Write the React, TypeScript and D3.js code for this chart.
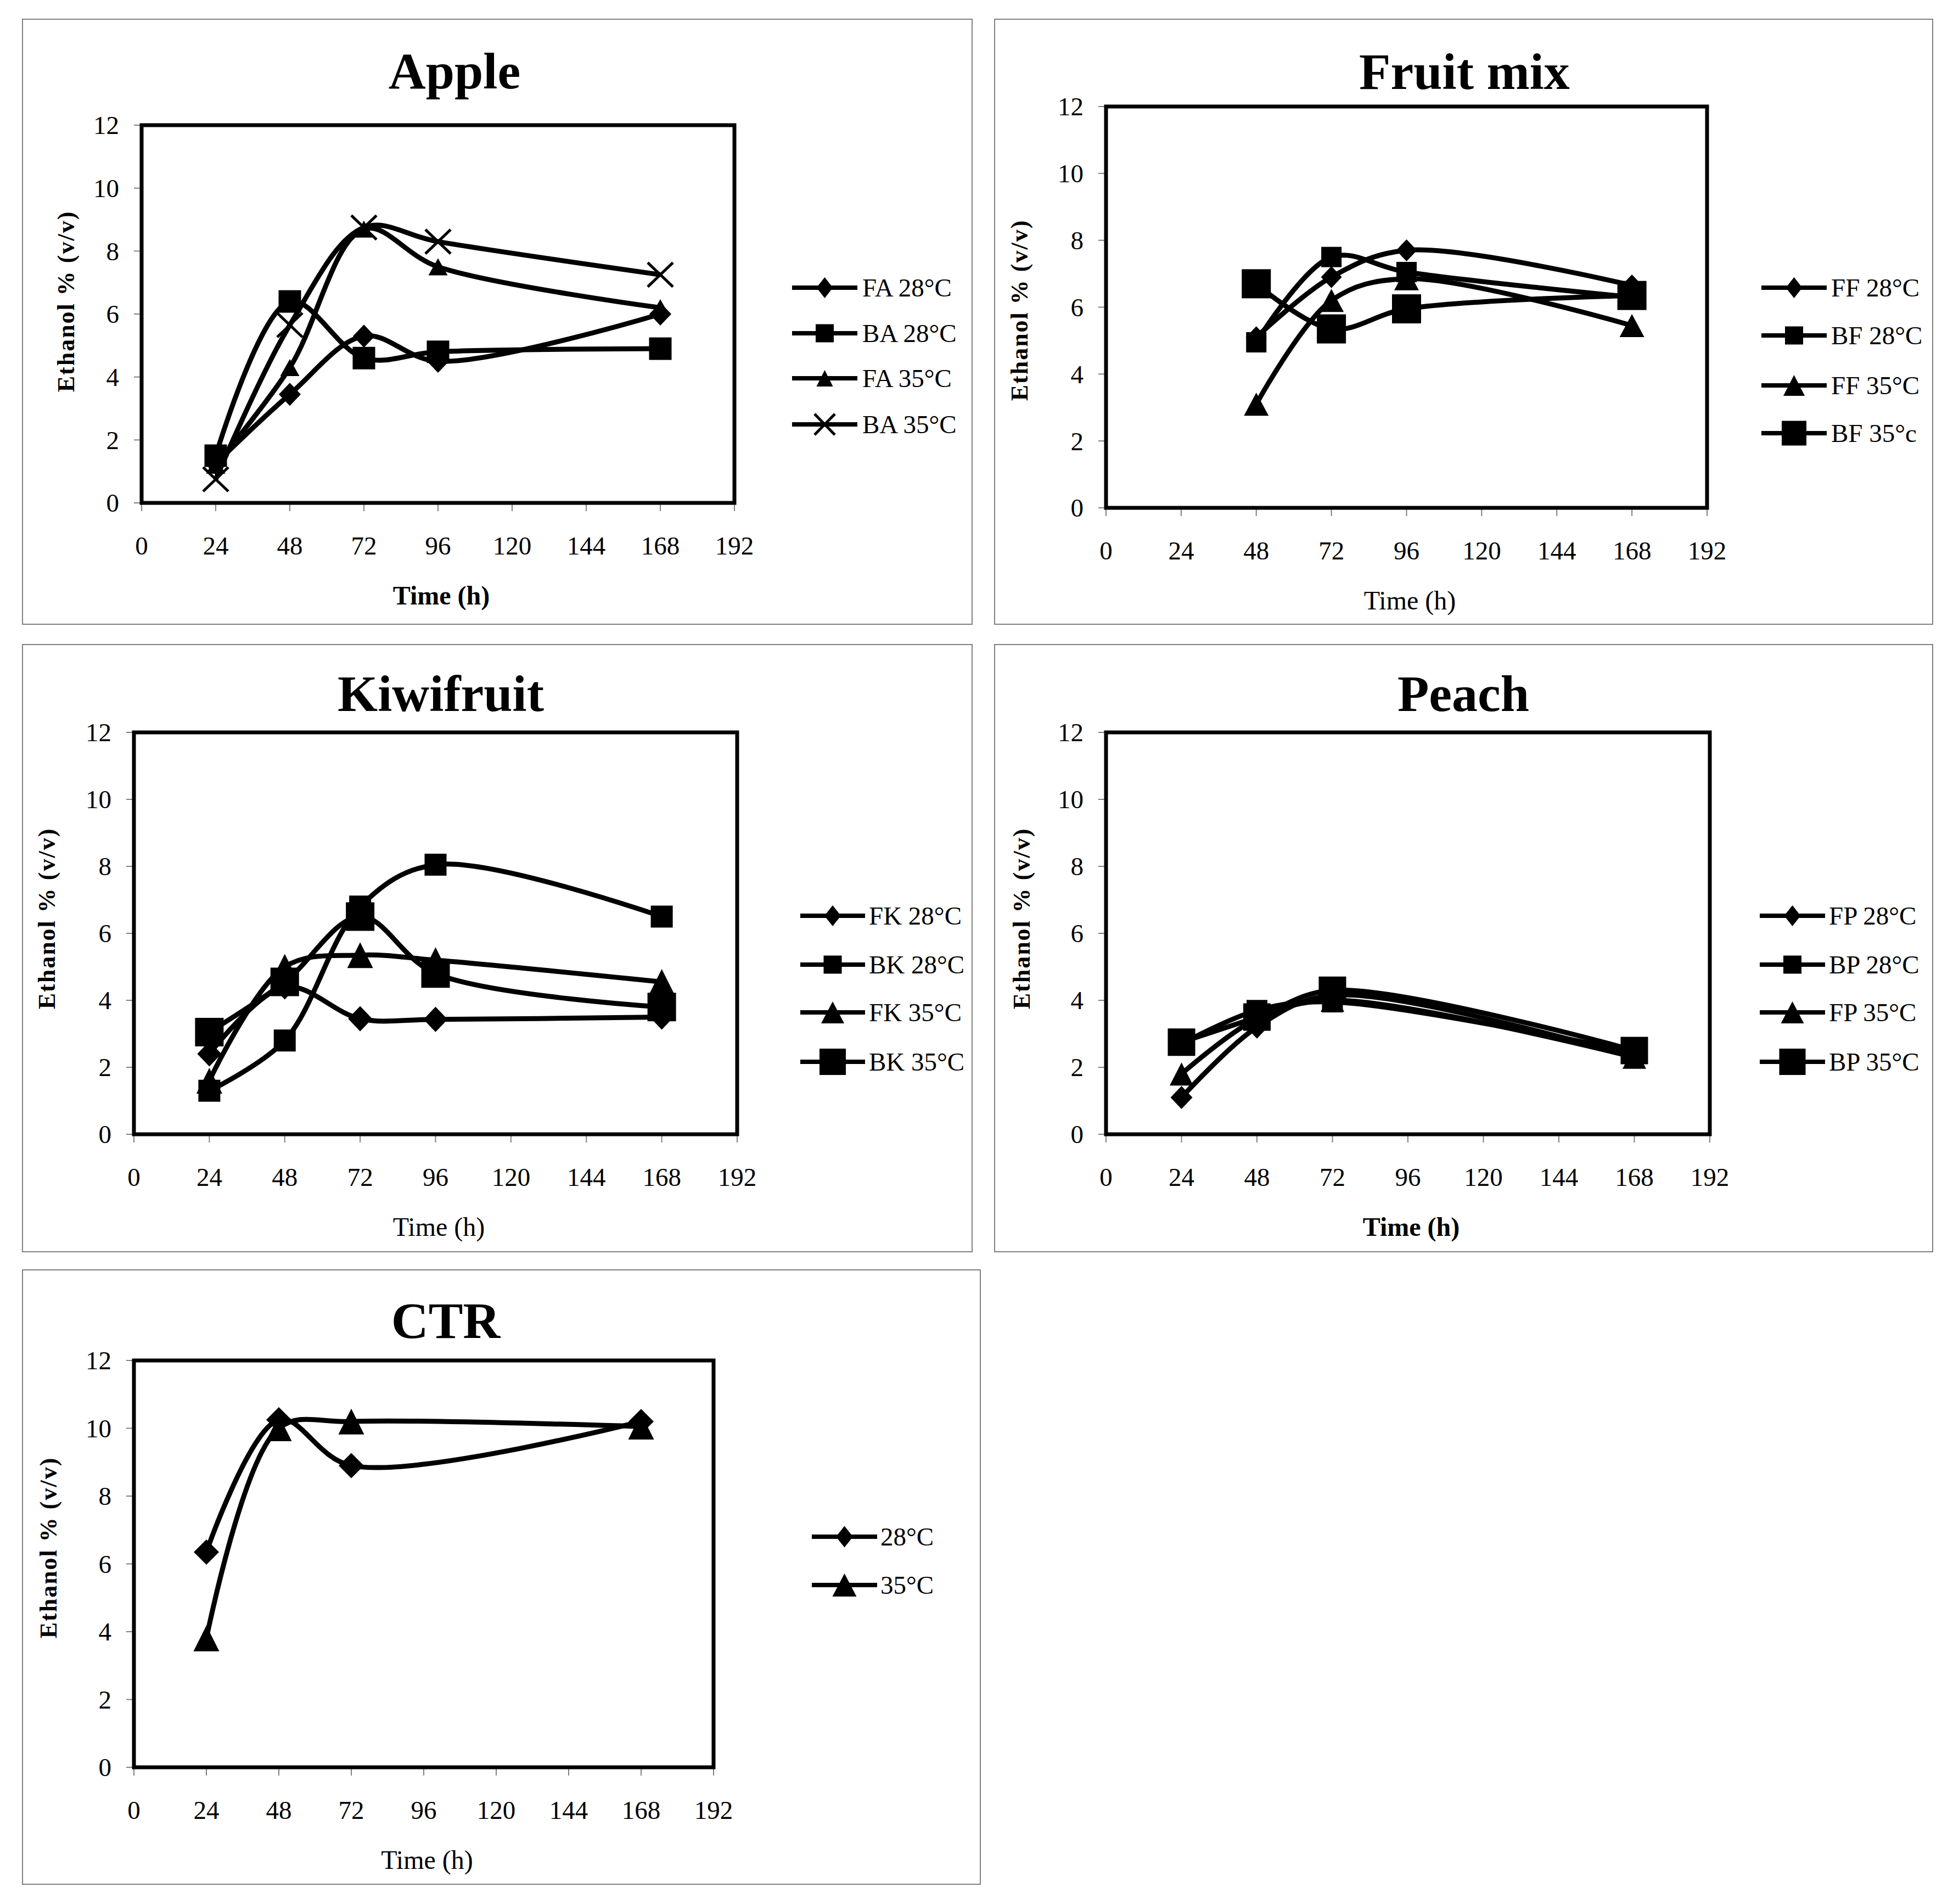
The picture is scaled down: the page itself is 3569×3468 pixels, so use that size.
import * as d3 from "d3";

// ---- data ----
const X_TICKS = [0, 24, 48, 72, 96, 120, 144, 168, 192];
const Y_TICKS = [0, 2, 4, 6, 8, 10, 12];

const HOURS_5 = [24, 48, 72, 96, 168];
const HOURS_FRUIT = [48, 72, 96, 168];
const HOURS_4 = [24, 48, 72, 168];

const APPLE_LABELS = ["FA 28°C", "BA 28°C", "FA 35°C", "BA 35°C"];
const APPLE_FA28 = [1.25, 3.45, 5.3, 4.5, 6.0];
const APPLE_BA28 = [1.5, 6.4, 4.6, 4.8, 4.9];
const APPLE_FA35 = [1.2, 4.3, 8.7, 7.5, 6.2];
const APPLE_BA35 = [0.75, 5.65, 8.75, 8.3, 7.25];

const FRUIT_LABELS = ["FF 28°C", "BF 28°C", "FF 35°C", "BF 35°c"];
const FRUIT_FF28 = [5.1, 6.9, 7.7, 6.65];
const FRUIT_BF28 = [4.95, 7.5, 7.05, 6.3];
const FRUIT_FF35 = [3.1, 6.2, 6.85, 5.45];
const FRUIT_BF35 = [6.7, 5.35, 5.95, 6.35];

const KIWI_LABELS = ["FK 28°C", "BK 28°C", "FK 35°C", "BK 35°C"];
const KIWI_FK28 = [2.4, 4.4, 3.45, 3.43, 3.5];
const KIWI_BK28 = [1.3, 2.8, 6.8, 8.05, 6.5];
const KIWI_FK35 = [1.6, 5.0, 5.35, 5.2, 4.55];
const KIWI_BK35 = [3.05, 4.55, 6.5, 4.8, 3.8];

const PEACH_LABELS = ["FP 28°C", "BP 28°C", "FP 35°C", "BP 35°C"];
const PEACH_FP28 = [1.1, 3.2, 4.15, 2.3];
const PEACH_BP28 = [2.7, 3.7, 3.95, 2.45];
const PEACH_FP35 = [1.8, 3.45, 4.0, 2.3];
const PEACH_BP35 = [2.75, 3.5, 4.3, 2.5];

const CTR_LABELS = ["28°C", "35°C"];
const CTR_28 = [6.35, 10.25, 8.9, 10.2];
const CTR_35 = [3.8, 10.0, 10.2, 10.05];

// ---- styling / layout ----
const W = 3569;
const H = 3468;
const FONT = "'Liberation Serif', 'Times New Roman', serif";
const LINE_W = 9;
const LEGEND_LINE_W = 8;
const GRID_GRAY = "#808080";

type Marker = "diamond" | "square" | "bigsquare" | "triangle" | "bigtriangle" | "cross";
type Sizes = Partial<Record<Marker, [number, number]>>;

interface Series {
  label: string;
  values: number[];
  marker: Marker;
}

interface Panel {
  title: string;
  hours: number[];
  series: Series[];
  box: [number, number, number, number]; // panel border l, t, r, b
  plot: { x0: number; x1: number; y0: number; y12: number };
  titleX: number;
  titleY: number;
  yLabelX: number;
  yLabelY: number;
  timeBold: boolean;
  legend: { lx0: number; lx1: number; tx: number; ys: number[] };
  plotSizes: Sizes;
  legendSizes: Sizes;
}

const mk = (labels: string[], values: number[][], markers: Marker[]): Series[] =>
  labels.map((label, i) => ({ label, values: values[i], marker: markers[i] }));

const LEGEND_SIZES: Sizes = {
  diamond: [30, 38],
  square: [33, 33],
  triangle: [30, 30],
  cross: [37, 38],
  bigtriangle: [39, 38],
  bigsquare: [45, 45],
};

const PANELS: Panel[] = [
  {
    title: "Apple",
    hours: HOURS_5,
    series: mk(APPLE_LABELS, [APPLE_FA28, APPLE_BA28, APPLE_FA35, APPLE_BA35], ["diamond", "square", "triangle", "cross"]),
    box: [41, 35, 1771, 1137],
    plot: { x0: 258, x1: 1338, y0: 916, y12: 228 },
    titleX: 828,
    titleY: 161,
    yLabelX: 135,
    yLabelY: 549,
    timeBold: true,
    legend: { lx0: 1443, lx1: 1562, tx: 1571, ys: [524, 607, 689, 773] },
    plotSizes: { diamond: [40, 42], square: [41, 41], triangle: [35, 31], cross: [46, 44] },
    legendSizes: LEGEND_SIZES,
  },
  {
    title: "Fruit mix",
    hours: HOURS_FRUIT,
    series: mk(FRUIT_LABELS, [FRUIT_FF28, FRUIT_BF28, FRUIT_FF35, FRUIT_BF35], ["diamond", "square", "bigtriangle", "bigsquare"]),
    box: [1812, 35, 3521, 1137],
    plot: { x0: 2015, x1: 3110, y0: 925, y12: 194 },
    titleX: 2668,
    titleY: 162,
    yLabelX: 1872,
    yLabelY: 565,
    timeBold: false,
    legend: { lx0: 3209, lx1: 3328, tx: 3336, ys: [524, 611, 702, 789] },
    plotSizes: { diamond: [38, 40], square: [37, 37], bigtriangle: [45, 42], bigsquare: [53, 53] },
    legendSizes: LEGEND_SIZES,
  },
  {
    title: "Kiwifruit",
    hours: HOURS_5,
    series: mk(KIWI_LABELS, [KIWI_FK28, KIWI_BK28, KIWI_FK35, KIWI_BK35], ["diamond", "square", "bigtriangle", "bigsquare"]),
    box: [41, 1174, 1771, 2280],
    plot: { x0: 244, x1: 1343, y0: 2066, y12: 1334 },
    titleX: 803,
    titleY: 1295,
    yLabelX: 100,
    yLabelY: 1673,
    timeBold: false,
    legend: { lx0: 1458, lx1: 1576, tx: 1583, ys: [1668, 1757, 1844, 1934] },
    plotSizes: { diamond: [44, 46], square: [40, 40], bigtriangle: [47, 47], bigsquare: [52, 52] },
    legendSizes: { ...LEGEND_SIZES, bigtriangle: [42, 40], bigsquare: [48, 48] },
  },
  {
    title: "Peach",
    hours: HOURS_4,
    series: mk(PEACH_LABELS, [PEACH_FP28, PEACH_BP28, PEACH_FP35, PEACH_BP35], ["diamond", "square", "bigtriangle", "bigsquare"]),
    box: [1812, 1174, 3521, 2280],
    plot: { x0: 2015, x1: 3115, y0: 2066, y12: 1334 },
    titleX: 2666,
    titleY: 1295,
    yLabelX: 1876,
    yLabelY: 1673,
    timeBold: true,
    legend: { lx0: 3206, lx1: 3325, tx: 3332, ys: [1668, 1757, 1844, 1934] },
    plotSizes: { diamond: [40, 42], square: [38, 38], bigtriangle: [43, 42], bigsquare: [50, 50] },
    legendSizes: { ...LEGEND_SIZES, bigtriangle: [42, 40], bigsquare: [48, 48] },
  },
  {
    title: "CTR",
    hours: HOURS_4,
    series: mk(CTR_LABELS, [CTR_28, CTR_35], ["diamond", "bigtriangle"]),
    box: [41, 2313, 1786, 3432],
    plot: { x0: 244, x1: 1300, y0: 3219, y12: 2478 },
    titleX: 812,
    titleY: 2437,
    yLabelX: 103,
    yLabelY: 2819,
    timeBold: false,
    legend: { lx0: 1479, lx1: 1598, tx: 1604, ys: [2799, 2887] },
    plotSizes: { diamond: [46, 46], bigtriangle: [47, 47] },
    legendSizes: { diamond: [31, 39], bigtriangle: [44, 42] },
  },
];

function MarkerShape({ type, cx, cy, size }: { type: Marker; cx: number; cy: number; size: [number, number] }) {
  const hw = size[0] / 2;
  const hh = size[1] / 2;
  if (type === "diamond") {
    return <path d={`M${cx},${cy - hh}L${cx + hw},${cy}L${cx},${cy + hh}L${cx - hw},${cy}Z`} fill="#000" />;
  }
  if (type === "square" || type === "bigsquare") {
    return <rect x={cx - hw} y={cy - hh} width={size[0]} height={size[1]} fill="#000" />;
  }
  if (type === "triangle" || type === "bigtriangle") {
    return <path d={`M${cx},${cy - hh}L${cx + hw},${cy + hh}L${cx - hw},${cy + hh}Z`} fill="#000" />;
  }
  return (
    <g stroke="#000" strokeWidth={5}>
      <line x1={cx - hw} y1={cy - hh} x2={cx + hw} y2={cy + hh} />
      <line x1={cx - hw} y1={cy + hh} x2={cx + hw} y2={cy - hh} />
    </g>
  );
}

function ChartPanel({ p }: { p: Panel }) {
  const { x0, x1, y0, y12 } = p.plot;
  const x = d3.scaleLinear().domain([0, 192]).range([x0, x1]);
  const y = d3.scaleLinear().domain([0, 12]).range([y0, y12]);

  const line = d3
    .line<number>()
    .x((_, i) => x(p.hours[i]))
    .y((d) => y(d))
    .curve(d3.curveCatmullRom.alpha(0.5));

  const [bl, bt, br, bb] = p.box;

  return (
    <g>
      <rect x={bl} y={bt} width={br - bl} height={bb - bt} fill="none" stroke={GRID_GRAY} strokeWidth={2} />
      <text x={p.titleX} y={p.titleY} textAnchor="middle" fontSize={94} fontWeight="bold" fontFamily={FONT}>
        {p.title}
      </text>

      {/* axes ticks */}
      {Y_TICKS.map((t) => (
        <g key={`y${t}`}>
          <line x1={x0 - 14} x2={x0} y1={y(t)} y2={y(t)} stroke={GRID_GRAY} strokeWidth={2} />
          <text x={x0 - 41} y={y(t)} dy="0.35em" textAnchor="end" fontSize={47} fontFamily={FONT}>
            {t}
          </text>
        </g>
      ))}
      {X_TICKS.map((t) => (
        <g key={`x${t}`}>
          <line x1={x(t)} x2={x(t)} y1={y0} y2={y0 + 15} stroke={GRID_GRAY} strokeWidth={2} />
          <text x={x(t)} y={y0 + 94} textAnchor="middle" fontSize={47} fontFamily={FONT}>
            {t}
          </text>
        </g>
      ))}

      {/* plot frame */}
      <rect x={x0} y={y12} width={x1 - x0} height={y0 - y12} fill="none" stroke="#000" strokeWidth={7} />

      <text
        x={(x0 + x1) / 2 + 6}
        y={y0 + 185}
        textAnchor="middle"
        fontSize={48}
        fontWeight={p.timeBold ? "bold" : "normal"}
        fontFamily={FONT}
      >
        Time (h)
      </text>
      <text
        transform={`translate(${p.yLabelX},${p.yLabelY}) rotate(-90)`}
        textAnchor="middle"
        fontSize={44}
        fontWeight="bold"
        letterSpacing={2}
        fontFamily={FONT}
      >
        Ethanol % (v/v)
      </text>

      {/* series */}
      {p.series.map((s) => (
        <g key={s.label}>
          <path d={line(s.values) ?? ""} fill="none" stroke="#000" strokeWidth={LINE_W} strokeLinejoin="round" />
          {s.values.map((v, i) => (
            <MarkerShape key={i} type={s.marker} cx={x(p.hours[i])} cy={y(v)} size={p.plotSizes[s.marker] ?? [40, 40]} />
          ))}
        </g>
      ))}

      {/* legend */}
      {p.series.map((s, i) => {
        const ly = p.legend.ys[i];
        const mx = (p.legend.lx0 + p.legend.lx1) / 2;
        return (
          <g key={`lg${s.label}`}>
            <line x1={p.legend.lx0} x2={p.legend.lx1} y1={ly} y2={ly} stroke="#000" strokeWidth={LEGEND_LINE_W} />
            <MarkerShape type={s.marker} cx={mx} cy={ly} size={p.legendSizes[s.marker] ?? [32, 32]} />
            <text x={p.legend.tx} y={ly} dy="0.35em" fontSize={47} fontFamily={FONT}>
              {s.label}
            </text>
          </g>
        );
      })}
    </g>
  );
}

export default function App() {
  return (
    <svg
      width={W}
      height={H}
      viewBox={`0 0 ${W} ${H}`}
      style={{ position: "absolute", left: 0, top: 0, background: "#fff" }}
    >
      <rect width={W} height={H} fill="#fff" />
      {PANELS.map((p) => (
        <ChartPanel key={p.title} p={p} />
      ))}
    </svg>
  );
}
